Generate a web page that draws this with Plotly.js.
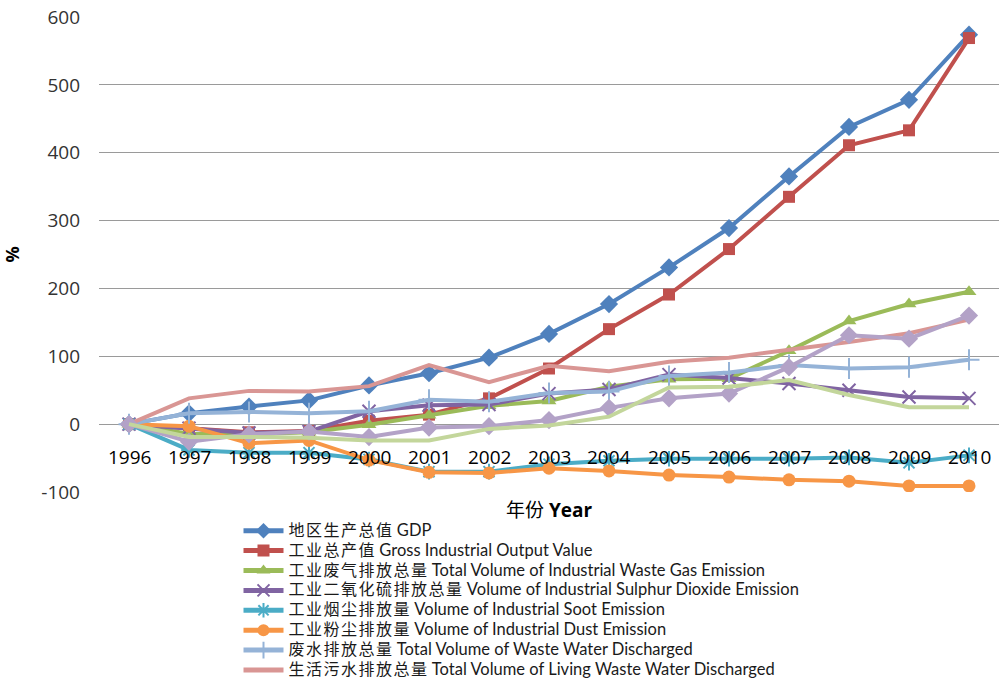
<!DOCTYPE html>
<html>
<head>
<meta charset="utf-8">
<script src="https://cdn.plot.ly/plotly-3.0.1.min.js"></script>
<style>
  html, body { margin: 0; padding: 0; background: #fff; }
  #chart { width: 999px; height: 686px; }
</style>
</head>
<body>
<div id="chart"></div>
<script>
// Years on the category axis
const years = ['1996','1997','1998','1999','2000','2001','2002','2003','2004','2005','2006','2007','2008','2009','2010'];

// Growth relative to 1996, in percent
const gdp        = [0, 16, 26, 35, 57, 75, 98, 133, 177, 231, 289, 365, 438, 478, 574];
const indOutput  = [0, -6, -12, -10, 5, 14, 38, 82, 140, 191, 258, 335, 411, 433, 569];
const wasteGas   = [0, -14, -15, -12, -1, 13, 27, 34, 55, 66, 67, 108, 152, 177, 195];
const so2        = [0, -6, -13, -11, 19, 28, 29, 45, 51, 73, 68, 60, 50, 40, 38];
const soot       = [0, -38, -42, -42, -52, -70, -70, -59, -54, -51, -51, -51, -49, -57, -46];
const dust       = [0, -3, -28, -24, -53, -71, -72, -65, -69, -75, -78, -82, -84, -91, -91];
const wasteWater = [0, 16, 18, 16, 19, 36, 33, 46, 48, 71, 76, 87, 82, 84, 95];
const livingWater= [0, 38, 49, 48, 56, 87, 62, 86, 78, 92, 98, 109, 121, 134, 154];
const extraA     = [0, -26, -15, -11, -19, -5, -3, 6, 24, 38, 45, 84, 131, 126, 160];
const extraB     = [0, -19, -19, -20, -24, -24, -7, -2, 11, 54, 55, 65, 43, 25, 25];

// Y tick values and their labels (plain hyphen minus)
const yTickVals  = [-100, 0, 100, 200, 300, 400, 500, 600];
const yTickText  = ['-100', '0', '100', '200', '300', '400', '500', '600'];

// Legend labels: Chinese name + English name
const namesZh = ['地区生产总值', '工业总产值', '工业废气排放总量', '工业二氧化硫排放总量',
                 '工业烟尘排放量', '工业粉尘排放量', '废水排放总量', '生活污水排放总量'];
const namesEn = ['GDP', 'Gross Industrial Output Value',
                 'Total Volume of Industrial Waste Gas Emission',
                 'Volume of Industrial Sulphur Dioxide Emission',
                 'Volume of Industrial Soot Emission',
                 'Volume of Industrial Dust Emission',
                 'Total Volume of Waste Water Discharged',
                 'Total Volume of Living Waste Water Discharged'];

function label(i) {
  return '<span style="font-family:Noto Sans CJK SC;font-size:16px;letter-spacing:1.5px">' + namesZh[i] + '</span> ' +
         '<span style="font-family:Lato;font-size:16.5px">' + namesEn[i] + '</span>';
}

const LW = 4;
function series(y, name, color, marker, showlegend) {
  const t = {
    type: 'scatter',
    mode: marker ? 'lines+markers' : 'lines',
    x: years, y: y, name: name || '',
    showlegend: showlegend !== false,
    line: { color: color, width: LW },
    hoverinfo: 'x+y+name'
  };
  if (marker) t.marker = Object.assign({ color: color }, marker);
  return t;
}

const traces = [
  series(gdp,        label(0), '#4F81BD', { symbol: 'diamond', size: 14 }),
  series(indOutput,  label(1), '#C0504D', { symbol: 'square', size: 12 }),
  series(wasteGas,   label(2), '#9BBB59', { symbol: 'triangle-up', size: 13 }),
  series(so2,        label(3), '#8064A2', { symbol: 'x-thin-open', size: 13, line: { color: '#8064A2', width: 2 } }),
  series(soot,       label(4), '#4BACC6', { symbol: 'asterisk-open', size: 13, line: { color: '#4BACC6', width: 2 } }),
  series(dust,       label(5), '#F79646', { symbol: 'circle', size: 13 }),
  series(wasteWater, label(6), '#95B3D7', { symbol: 'cross-thin-open', size: 15, line: { color: '#95B3D7', width: 2 } }),
  series(livingWater,label(7), '#D99694', null),
  series(extraA,     '', '#B3A2C7', { symbol: 'diamond', size: 14 }, false),
  series(extraB,     '', '#C3D69B', null, false)
];

// Year labels sit just under the zero line
const yearLabels = years.map(function (yr, i) {
  return {
    x: i, y: 0, xref: 'x', yref: 'y',
    text: yr, showarrow: false,
    yanchor: 'top', yshift: -18,
    font: { family: 'Open Sans, sans-serif', size: 19, color: '#000' }
  };
});

const layout = {
  width: 999, height: 686,
  margin: { l: 99, r: 0, t: 17, b: 194 },
  paper_bgcolor: '#fff', plot_bgcolor: '#fff',
  showlegend: true,
  xaxis: {
    type: 'category',
    range: [-0.5, 14.5],
    showticklabels: false,
    showgrid: false, zeroline: false, showline: false, ticks: '',
    title: {
      text: '年份 <b>Year</b>',
      font: { family: 'Open Sans, Noto Sans CJK SC, sans-serif', size: 19, color: '#000' },
      standoff: 11
    },
    fixedrange: true
  },
  yaxis: {
    range: [-100, 600],
    tickmode: 'array', tickvals: yTickVals, ticktext: yTickText,
    showgrid: true, gridcolor: '#9a9a9a', gridwidth: 1,
    zeroline: false, showline: false, ticks: '',
    ticklabelstandoff: 18,
    tickfont: { family: 'Open Sans, sans-serif', size: 19, color: '#333' },
    title: {
      text: '<b>%</b>',
      font: { family: 'Open Sans, sans-serif', size: 18, color: '#000' },
      standoff: 22
    },
    fixedrange: true
  },
  legend: {
    x: 0.155, xanchor: 'left',
    y: -0.05, yanchor: 'top',
    orientation: 'v',
    font: { family: 'Lato, Noto Sans CJK SC, sans-serif', size: 13, color: '#1a1a1a' },
    itemwidth: 40,
    itemsizing: 'constant',
    tracegroupgap: 0,
    bgcolor: 'rgba(0,0,0,0)'
  },
  annotations: yearLabels
};

Plotly.newPlot('chart', traces, layout, { displayModeBar: false, staticPlot: true });
</script>
</body>
</html>
